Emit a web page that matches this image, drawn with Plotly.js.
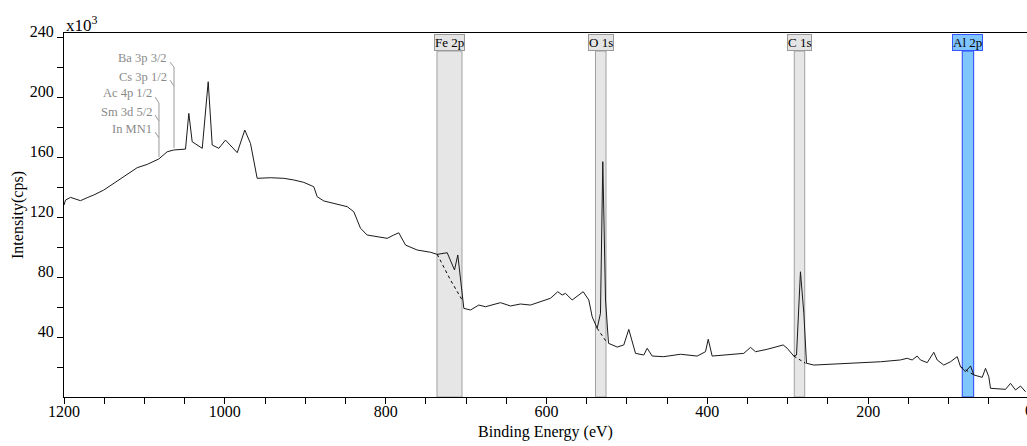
<!DOCTYPE html>
<html>
<head>
<meta charset="utf-8">
<script src="https://cdn.plot.ly/plotly-3.0.1.min.js"></script>
<style>html,body{margin:0;padding:0;background:#fff;}#chart{width:1027px;height:446px;}</style>
</head>
<body>
<div id="chart"></div>
<script>
// Binding energy (eV) and intensity (x10^3 cps)
const bindingEnergy = [1200,1198.1,1191.9,1185.7,1179.5,1171.2,1162.9,1150.5,1140.1,1127.6,1109.0,1096.5,1082.1,1071.7,1063.5,1048.9,1044.8,1040.6,1028.1,1020.7,1015.7,1007.5,999.2,984.6,975.2,968.1,959.8,943.2,926.7,914.2,901.8,889.4,885.1,876.9,864.5,847.8,839.6,831.3,823.0,810.5,798.1,789.9,783.7,775.3,760.8,744.2,735.9,723.5,714.4,710.3,703.6,702.8,694.5,684.2,675.9,657.2,644.8,632.4,620.0,607.5,595.1,586.0,580.5,576.4,568.1,554.4,547.4,543.2,537.0,532.9,530.0,526.6,522.9,512.1,503.9,497.7,489.3,479.0,474.8,468.6,454.2,433.4,412.6,402.3,398.9,394.0,371.2,354.7,346.3,340.1,325.6,305.7,300.7,292.5,289.1,284.2,280.0,276.7,267.6,246.9,226.1,205.5,184.7,159.9,151.5,145.3,139.1,135.0,126.6,118.4,114.2,106.0,97.6,89.3,85.2,79.0,72.7,68.6,58.2,54.1,50.0,47.9,29.2,23.0,16.8,10.5,4.3];
const intensity = [128.0,131.3,133.1,132.0,130.9,132.9,134.7,138.0,141.8,145.8,152.9,155.1,158.7,163.5,164.7,165.3,189.1,170.2,165.8,210.2,168.0,165.8,171.3,162.9,178.0,169.1,145.8,146.2,145.8,144.7,143.1,140.2,133.5,130.7,129.1,126.9,123.5,112.5,108.0,106.9,105.8,108.0,109.5,101.3,98.0,96.5,95.1,96.2,84.7,94.7,64.7,59.1,58.0,61.3,60.2,62.9,60.7,62.0,61.3,63.5,65.8,70.2,68.0,69.1,64.7,70.2,64.7,53.5,45.8,55.8,156.9,64.7,35.8,33.3,34.7,45.1,29.1,28.0,32.5,27.3,26.9,28.5,27.3,30.2,38.5,27.3,28.5,29.1,33.1,30.2,31.8,34.7,32.5,27.3,28.0,83.5,55.8,22.5,21.3,21.8,22.5,23.1,23.5,24.7,25.8,24.7,27.3,24.7,22.9,29.8,24.7,21.3,23.5,26.9,20.2,16.9,20.7,14.7,13.1,19.1,13.5,5.8,5.1,9.1,4.7,7.3,3.5];

// Background (baseline) lines under the identified peaks
const feBaseX = [735.9, 719.4, 703.6];
const feBaseY = [95.1, 78.0, 63.5];
const oBaseX = [537.0, 524.5];
const oBaseY = [45.8, 36.0];
const cBaseX = [292.5, 278.0];
const cBaseY = [27.3, 22.5];
const alBaseX = [85.2, 68.6];
const alBaseY = [20.2, 14.7];

// Peak regions: label, high/low energy
const peakNames = ['Fe 2p', 'O 1s', 'C 1s', 'Al 2p'];
const peakHigh = [736.2, 539.1, 291.9, 83.0];
const peakLow = [705.1, 526.0, 278.9, 68.8];
const peakSelected = [false, false, false, true];

const yTickVals = [40, 80, 120, 160, 200, 240];
const yTickText = ['40', '80', '120', '160', '200', '240'];
const yMinorVals = [20, 60, 100, 140, 180, 220];

const FONT = '"Liberation Serif", "DejaVu Serif", serif';

const traces = [
  {x: bindingEnergy, y: intensity, type: 'scatter', mode: 'lines',
   line: {color: '#1a1a1a', width: 1}, hoverinfo: 'skip'}
];
[[feBaseX, feBaseY], [oBaseX, oBaseY], [cBaseX, cBaseY], [alBaseX, alBaseY]].forEach(b => {
  traces.push({x: b[0], y: b[1], type: 'scatter', mode: 'lines',
    line: {color: '#000', width: 1, dash: 'dot'}, hoverinfo: 'skip'});
});

const shapes = [];
const annotations = [];
peakNames.forEach((name, i) => {
  const sel = peakSelected[i];
  shapes.push({type: 'rect', xref: 'x', yref: 'paper', x0: peakHigh[i], x1: peakLow[i], y0: 0, y1: 0.9505,
    fillcolor: sel ? '#7fc6fa' : '#e6e6e6', line: {color: sel ? '#2a44ff' : '#a0a0a0', width: 1}, layer: 'below'});
  annotations.push({xref: 'x', yref: 'paper', x: (peakHigh[i] + peakLow[i]) / 2, y: 0.974,
    xanchor: 'center', yanchor: 'middle', text: name, showarrow: false,
    font: {family: FONT, size: 13, color: '#000'},
    bgcolor: sel ? '#80c4ff' : '#e4e4e4', bordercolor: sel ? '#3355ff' : '#999', borderwidth: 1, borderpad: 0});
});

// Element marker leader lines (grey)
const g = {color: '#9a9a9a', width: 1};
shapes.push({type: 'line', xref: 'x', yref: 'y', x0: 1068.2, y0: 223.3, x1: 1063.2, y1: 220, line: g});
shapes.push({type: 'line', xref: 'x', yref: 'y', x0: 1068.2, y0: 211.3, x1: 1063.2, y1: 207.3, line: g});
shapes.push({type: 'line', xref: 'x', yref: 'y', x0: 1063.2, y0: 220, x1: 1063.2, y1: 166, line: g});
shapes.push({type: 'line', xref: 'x', yref: 'y', x0: 1086.8, y0: 200, x1: 1081.9, y1: 196, line: g});
shapes.push({type: 'line', xref: 'x', yref: 'y', x0: 1086.8, y0: 188, x1: 1081.9, y1: 184, line: g});
shapes.push({type: 'line', xref: 'x', yref: 'y', x0: 1086.8, y0: 176.7, x1: 1081.9, y1: 172.7, line: g});
shapes.push({type: 'line', xref: 'x', yref: 'y', x0: 1081.9, y0: 196, x1: 1081.9, y1: 160, line: g});

const markerLabels = [
  ['Ba 3p 3/2', 1069.4, 226.0], ['Cs 3p 1/2', 1069.4, 213.5],
  ['Ac 4p 1/2', 1088.1, 202.7], ['Sm 3d 5/2', 1088.1, 190.2], ['In MN1', 1088.1, 178.7]
];
markerLabels.forEach(m => {
  annotations.push({xref: 'x', yref: 'y', x: m[1], y: m[2], text: m[0], showarrow: false,
    xanchor: 'right', yanchor: 'middle', font: {family: FONT, size: 12.5, color: '#8a8a8a'}});
});

annotations.push({xref: 'paper', yref: 'paper', x: 0, y: 1, xanchor: 'left', yanchor: 'bottom',
  text: 'x10<sup>3</sup>', showarrow: false, font: {family: FONT, size: 17, color: '#000'}, yshift: -4});
annotations.push({xref: 'paper', yref: 'paper', x: 1.002, y: -0.036, xanchor: 'center', yanchor: 'middle',
  text: '0', showarrow: false, font: {family: FONT, size: 16, color: '#000'}});

const layout = {
  width: 1027, height: 446,
  margin: {l: 64, r: 0, t: 33, b: 49},
  paper_bgcolor: '#fff', plot_bgcolor: '#fff',
  showlegend: false,
  font: {family: FONT, size: 16, color: '#000'},
  xaxis: {
    range: [1200, 2.5], showgrid: false, zeroline: false,
    showline: true, linecolor: '#000', linewidth: 1, mirror: true,
    ticks: 'outside', ticklen: 6, tickcolor: '#000', tickmode: 'linear', tick0: 0, dtick: 200,
    minor: {dtick: 50, tick0: 0, ticks: 'outside', ticklen: 6, tickcolor: '#000'},
    ticklabelstandoff: -6,
    tickfont: {family: FONT, size: 16, color: '#000'},
    title: {text: 'Binding Energy (eV)', font: {family: FONT, size: 16, color: '#000'}, standoff: 6}
  },
  yaxis: {
    range: [0, 242.7], showgrid: false, zeroline: false,
    showline: true, linecolor: '#000', linewidth: 1,
    ticks: 'outside', ticklen: 6, tickcolor: '#000',
    tickmode: 'array', tickvals: yTickVals, ticktext: yTickText,
    minor: {tickmode: 'array', tickvals: yMinorVals, ticks: 'outside', ticklen: 6, tickcolor: '#000'},
    ticklabelshift: -6,
    tickfont: {family: FONT, size: 16, color: '#000'},
    title: {text: 'Intensity(cps)', font: {family: FONT, size: 16, color: '#000'}, standoff: 2}
  },
  shapes: shapes,
  annotations: annotations
};

Plotly.newPlot('chart', traces, layout, {displayModeBar: false, staticPlot: true});
</script>
</body>
</html>
